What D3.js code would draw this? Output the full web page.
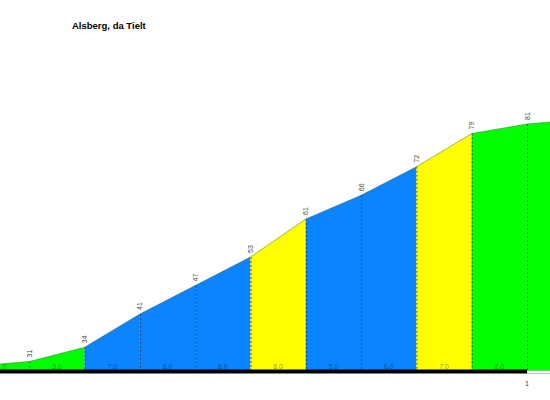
<!DOCTYPE html>
<html>
<head>
<meta charset="utf-8">
<script src="https://cdn.jsdelivr.net/npm/d3@7"></script>
<style>
html,body{margin:0;padding:0;background:#fff;}
svg{display:block;}
</style>
</head>
<body>
<svg id="chart" width="550" height="400"></svg>
<script>
const title = "Alsberg, da Tielt";
const distances = [0,100,200,300,400,500,600,700,800,900,1000,1100];
const elevations = [30,31,34,41,47,53,61,66,72,79,81,82];
const gradientLabels = ["1.0","3.0","7.0","6.0","6.0","8.0","5.0","6.0","7.0","2.0","1.0"];
const segmentClass = ["g","g","b","b","b","y","b","b","y","g","g"];
const kmTicks = [1];

const palette = {g:"#00ff00", b:"#0a84ff", y:"#ffff00"};

const svg = d3.select("#chart");
const x = d3.scaleLinear().domain([0,1000]).range([-26,527]);
const y = d3.scaleLinear().domain([29,81]).range([371,124]);
const base = y(29);

svg.append("text").attr("x",72).attr("y",29)
  .attr("font-family","Liberation Sans, Arial, sans-serif")
  .attr("font-size",9.5).attr("font-weight","bold").attr("fill","#000")
  .text(title);

const segs = gradientLabels.map((g,i)=>({i, g, c:segmentClass[i]}));

// filled segments
svg.selectAll("path.seg").data(segs).enter().append("path")
  .attr("class","seg")
  .attr("d", d => {
    const x0 = x(distances[d.i]), x1 = x(distances[d.i+1]);
    return `M${x0},${base}L${x0},${y(elevations[d.i])}L${x1},${y(elevations[d.i+1])}L${x1},${base}Z`;
  })
  .attr("fill", d => palette[d.c]);

// profile outline
svg.append("path")
  .datum(distances.map((d,i)=>[d, elevations[i]]))
  .attr("d", d3.line().x(d=>x(d[0])).y(d=>y(d[1])))
  .attr("fill","none").attr("stroke","#2a5a2a").attr("stroke-opacity",0.55).attr("stroke-width",0.8);

// dashed verticals
const inner = distances.map((d,i)=>({d, e:elevations[i]})).filter(p=>p.d>0 && p.d<=1000);
svg.selectAll("line.dash").data(inner).enter().append("line")
  .attr("x1",p=>x(p.d)+0.5).attr("x2",p=>x(p.d)+0.5)
  .attr("y1",p=>y(p.e)).attr("y2",base)
  .attr("stroke","#333").attr("stroke-opacity",0.8).attr("stroke-width",1)
  .attr("stroke-dasharray","2,2");

// elevation labels
svg.selectAll("text.elev").data(inner).enter().append("text")
  .attr("transform",p=>`translate(${x(p.d)+2.5},${y(p.e)-4}) rotate(-90)`)
  .attr("font-family","Liberation Sans, Arial, sans-serif")
  .attr("font-size",7).attr("fill","#444")
  .text(p=>p.e);

// gradient labels
svg.selectAll("text.grad").data(segs).enter().append("text")
  .attr("x", d => (x(distances[d.i])+x(distances[d.i+1]))/2)
  .attr("y", base-2)
  .attr("text-anchor","middle")
  .attr("font-family","Liberation Sans, Arial, sans-serif")
  .attr("font-size",7).attr("fill","#000").attr("fill-opacity",0.45)
  .text(d=>d.g);

// km scale bar
svg.append("rect").attr("x",x(1000)).attr("y",base-0.5).attr("width",x(2000)-x(1000)).attr("height",3)
  .attr("fill","#fff").attr("stroke","#999").attr("stroke-width",0.6);
svg.append("rect").attr("x",x(0)).attr("y",base-1.5).attr("width",x(1000)-x(0)).attr("height",4)
  .attr("fill","#000");

svg.selectAll("text.km").data(kmTicks).enter().append("text")
  .attr("x",k=>x(k*1000)).attr("y",386)
  .attr("text-anchor","middle")
  .attr("font-family","Liberation Sans, Arial, sans-serif")
  .attr("font-size",7).attr("fill","#333")
  .text(k=>k);
</script>
</body>
</html>
